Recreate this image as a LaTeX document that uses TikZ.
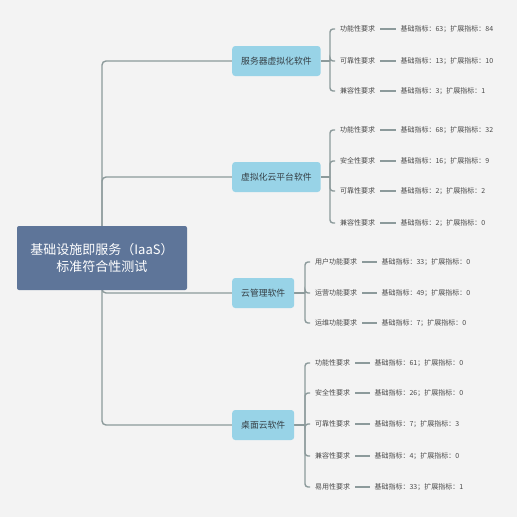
\documentclass[tikz,border=0pt]{standalone}
\usepackage{fontspec}
\setmainfont{Noto Sans CJK SC}
\usetikzlibrary{positioning,backgrounds}
\definecolor{bgc}{HTML}{F3F3F3}
\definecolor{rootc}{HTML}{5E7599}
\definecolor{brc}{HTML}{98D3E7}
\definecolor{linec}{HTML}{8C9A9B}
\definecolor{leaftxt}{HTML}{4A4A4A}
\definecolor{brtxt}{HTML}{353F45}
\tikzset{
  rootbox/.style={fill=rootc, rounded corners=2pt, minimum width=170pt, minimum height=64pt,
    text=white, align=center, font=\fontsize{13}{17}\selectfont, inner sep=0pt},
  brbox/.style={fill=brc, rounded corners=3pt, minimum height=30pt, inner xsep=9pt,
    text=brtxt, font=\fontsize{8.8}{10}\selectfont, anchor=west},
  leaf/.style={inner xsep=5pt, inner ysep=1pt, text=leaftxt, font=\fontsize{7}{8}\selectfont, anchor=west},
  val/.style={inner xsep=4pt, inner ysep=1pt, text=leaftxt, font=\fontsize{7}{8}\selectfont, anchor=west},
  conn/.style={draw=linec, line width=1.4pt},
}
\begin{document}
\begin{tikzpicture}[x=1pt,y=-1pt]
\useasboundingbox (0,0) rectangle (517,517);
\begin{pgfonlayer}{background}
\fill[bgc] (0,0) rectangle (517,517);
\end{pgfonlayer}
% root
\node[rootbox] (root) at (102,258) {基础设施即服务（IaaS）\\标准符合性测试};
% branches
\node[brbox] (b1) at (232,61) {服务器虚拟化软件};
\node[brbox] (b2) at (232,177) {虚拟化云平台软件};
\node[brbox] (b3) at (232,293) {云管理软件};
\node[brbox] (b4) at (232,425) {桌面云软件};
\coordinate (j1) at (330,61);
\coordinate (j2) at (330,177);
\coordinate (j3) at (305,293);
\coordinate (j4) at (305,425);
% leaves branch 1
\node[leaf] (l11) at (335,29) {功能性要求};
\node[leaf] (l12) at (335,61) {可靠性要求};
\node[leaf] (l13) at (335,91) {兼容性要求};
\node[val, right=16pt of l11] (v11) {基础指标：63；扩展指标：84};
\node[val, right=16pt of l12] (v12) {基础指标：13；扩展指标：10};
\node[val, right=16pt of l13] (v13) {基础指标：3；扩展指标：1};
% leaves branch 2
\node[leaf] (l21) at (335,130) {功能性要求};
\node[leaf] (l22) at (335,161) {安全性要求};
\node[leaf] (l23) at (335,191) {可靠性要求};
\node[leaf] (l24) at (335,223) {兼容性要求};
\node[val, right=16pt of l21] (v21) {基础指标：68；扩展指标：32};
\node[val, right=16pt of l22] (v22) {基础指标：16；扩展指标：9};
\node[val, right=16pt of l23] (v23) {基础指标：2；扩展指标：2};
\node[val, right=16pt of l24] (v24) {基础指标：2；扩展指标：0};
% leaves branch 3
\node[leaf] (l31) at (310,262) {用户功能要求};
\node[leaf] (l32) at (310,293) {运营功能要求};
\node[leaf] (l33) at (310,323) {运维功能要求};
\node[val, right=15pt of l31] (v31) {基础指标：33；扩展指标：0};
\node[val, right=15pt of l32] (v32) {基础指标：49；扩展指标：0};
\node[val, right=15pt of l33] (v33) {基础指标：7；扩展指标：0};
% leaves branch 4
\node[leaf] (l41) at (310,363) {功能性要求};
\node[leaf] (l42) at (310,393) {安全性要求};
\node[leaf] (l43) at (310,424) {可靠性要求};
\node[leaf] (l44) at (310,456) {兼容性要求};
\node[leaf] (l45) at (310,487) {易用性要求};
\node[val, right=15pt of l41] (v41) {基础指标：61；扩展指标：0};
\node[val, right=15pt of l42] (v42) {基础指标：26；扩展指标：0};
\node[val, right=15pt of l43] (v43) {基础指标：7；扩展指标：3};
\node[val, right=15pt of l44] (v44) {基础指标：4；扩展指标：0};
\node[val, right=15pt of l45] (v45) {基础指标：33；扩展指标：1};
% connectors
\begin{pgfonlayer}{background}
\foreach \b in {b1,b2,b3,b4}
  \draw[conn, rounded corners=4pt] (root.center) |- (\b.west);
\foreach \b/\j in {b1/j1,b2/j2,b3/j3,b4/j4}
  \draw[conn] (\b.east) -- (\j);
\foreach \j/\l in {j1/l11,j1/l12,j1/l13,j2/l21,j2/l22,j2/l23,j2/l24,j3/l31,j3/l32,j3/l33,j4/l41,j4/l42,j4/l43,j4/l44,j4/l45}
  \draw[conn, rounded corners=3pt] (\j) |- (\l.west);
\foreach \i in {11,12,13,21,22,23,24,31,32,33,41,42,43,44,45}
  \draw[conn] (l\i.east) -- (v\i.west);
\end{pgfonlayer}
\end{tikzpicture}
\end{document}
